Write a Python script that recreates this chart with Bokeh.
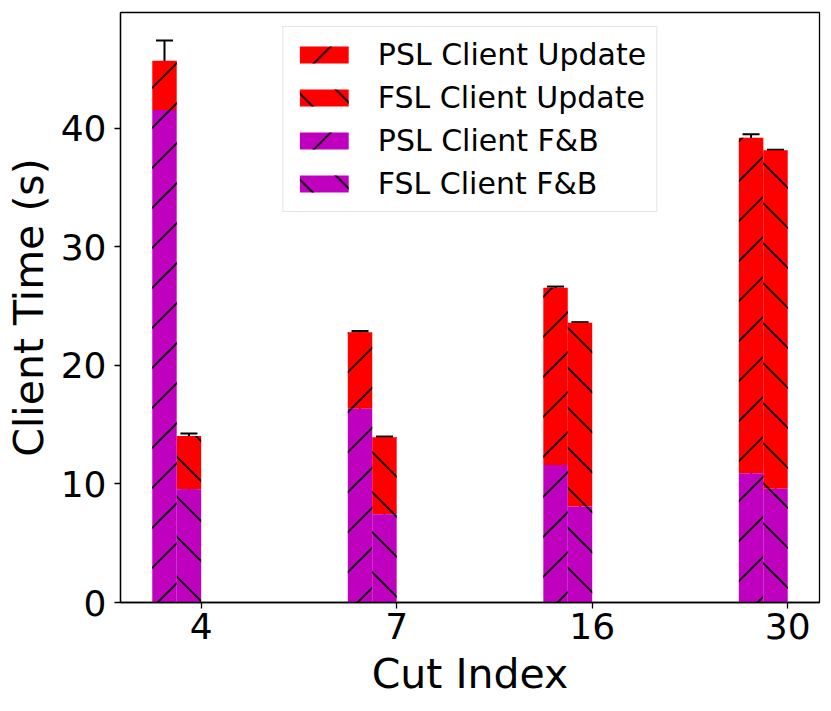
import base64
from bokeh.plotting import figure
from bokeh.models import (ColumnDataSource, FixedTicker, Range1d, Whisker,
                          TeeHead, Legend, LegendItem, ImageURLTexture)
from bokeh.core.properties import value
from bokeh.embed import file_html
from bokeh.resources import INLINE

# ---- data ----
cut_labels = ["4", "7", "16", "30"]
psl_fb = [41.55, 16.35, 11.6, 10.9]
psl_update = [4.15, 6.45, 14.95, 28.3]
fsl_fb = [9.55, 7.45, 8.1, 9.6]
fsl_update = [4.5, 6.5, 15.5, 28.55]
psl_fb_err = [0.15, 0.15, 0.15, 0.2]
psl_total_err = [1.7, 0.1, 0.1, 0.3]
fsl_fb_err = [0.1, 0.15, 0.15, 0.15]
fsl_total_err = [0.2, 0.05, 0.05, 0.05]
y_ticks = [0, 10, 20, 30, 40]

FONT = "DejaVu Sans"
RED = "#ff0000"
MAG = "#bf00bf"
bar_w = 0.125
idx = list(range(len(cut_labels)))


def make_source(offset, fb, upd, fb_err, tot_err):
    tot = [a + b for a, b in zip(fb, upd)]
    return ColumnDataSource(dict(
        x=[i + offset for i in idx],
        zero=[0] * len(idx),
        fb=fb,
        total=tot,
        fb_lo=[a - e for a, e in zip(fb, fb_err)],
        fb_hi=[a + e for a, e in zip(fb, fb_err)],
        t_lo=[a - e for a, e in zip(tot, tot_err)],
        t_hi=[a + e for a, e in zip(tot, tot_err)],
    ))


src_psl = make_source(-1.5 * bar_w, psl_fb, psl_update, psl_fb_err, psl_total_err)
src_fsl = make_source(-0.5 * bar_w, fsl_fb, fsl_update, fsl_fb_err, fsl_total_err)


# 45-degree hatch tiles (matplotlib-like "/" and "\"), embedded as data URLs
def tile(path):
    svg = ('<svg xmlns="http://www.w3.org/2000/svg" width="40" height="40">'
           '<path d="%s" stroke="black" stroke-width="1.8" fill="none"/></svg>' % path)
    return "data:image/svg+xml;base64," + base64.b64encode(svg.encode()).decode()


hatch_extra = {
    "fwd": ImageURLTexture(url=tile("M-2,42 L42,-2 M-2,2 L2,-2 M38,42 L42,38"),
                           repetition="repeat"),
    "bwd": ImageURLTexture(url=tile("M-2,-2 L42,42 M38,-2 L42,2 M-2,38 L2,42"),
                           repetition="repeat"),
}

p = figure(frame_width=699, frame_height=590, output_backend="svg",
           toolbar_location=None,
           x_range=Range1d(-0.4125, 3.1625), y_range=Range1d(0, 49.77),
           min_border_left=120, min_border_right=12, min_border_top=12,
           min_border_bottom=108)

common = dict(width=bar_w, line_color=None, hatch_color="black",
              hatch_scale=40, hatch_weight=1.5, hatch_extra=hatch_extra)

r_psl_up = p.vbar(x="x", bottom="fb", top="total", source=src_psl,
                  fill_color=RED, hatch_pattern=value("fwd"), **common)
r_fsl_up = p.vbar(x="x", bottom="fb", top="total", source=src_fsl,
                  fill_color=RED, hatch_pattern=value("bwd"), **common)
r_psl_fb = p.vbar(x="x", bottom="zero", top="fb", source=src_psl,
                  fill_color=MAG, hatch_pattern=value("fwd"), **common)
r_fsl_fb = p.vbar(x="x", bottom="zero", top="fb", source=src_fsl,
                  fill_color=MAG, hatch_pattern=value("bwd"), **common)

for src in (src_psl, src_fsl):
    for lo, hi in (("fb_lo", "fb_hi"), ("t_lo", "t_hi")):
        p.add_layout(Whisker(
            source=src, base="x", lower=lo, upper=hi, dimension="height",
            line_color="black", line_width=2,
            upper_head=TeeHead(size=17, line_width=2, line_color="black"),
            lower_head=TeeHead(size=17, line_width=2, line_color="black")))

legend = Legend(items=[
    LegendItem(label="PSL Client Update", renderers=[r_psl_up]),
    LegendItem(label="FSL Client Update", renderers=[r_fsl_up]),
    LegendItem(label="PSL Client F&B", renderers=[r_psl_fb]),
    LegendItem(label="FSL Client F&B", renderers=[r_fsl_fb]),
], location="top_center", margin=14, padding=10, spacing=8,
    glyph_width=61, glyph_height=21, label_standoff=24,
    label_text_font=FONT, label_text_font_size="30px",
    label_text_color="black",
    border_line_color="#cccccc", border_line_width=1.5,
    background_fill_color="white", background_fill_alpha=1.0)
p.add_layout(legend)

p.xgrid.visible = False
p.ygrid.visible = False
p.outline_line_color = "black"
p.outline_line_width = 1.3
p.outline_line_alpha = 1.0

p.xaxis.ticker = FixedTicker(ticks=idx)
p.xaxis.major_label_overrides = {i: lab for i, lab in zip(idx, cut_labels)}
p.yaxis.ticker = FixedTicker(ticks=y_ticks)

p.xaxis.axis_label = "Cut Index"
p.yaxis.axis_label = "Client Time (s)"
for ax in (p.xaxis[0], p.yaxis[0]):
    ax.axis_label_text_font = FONT
    ax.axis_label_text_font_style = "normal"
    ax.axis_label_text_font_size = "41px"
    ax.major_label_text_font = FONT
    ax.major_label_text_font_size = "36px"
    ax.major_label_text_color = "black"
    ax.axis_label_text_color = "black"
    ax.axis_line_color = "black"
    ax.axis_line_width = 1.3
    ax.major_tick_line_color = "black"
    ax.major_tick_line_width = 1.3
    ax.major_tick_in = 0
    ax.major_tick_out = 6
    ax.minor_tick_line_color = None
p.xaxis.major_label_standoff = 4
p.xaxis.axis_label_standoff = 8
p.yaxis.major_label_standoff = 8
p.yaxis.axis_label_standoff = 5

open("out.html", "w").write(file_html(p, INLINE))
